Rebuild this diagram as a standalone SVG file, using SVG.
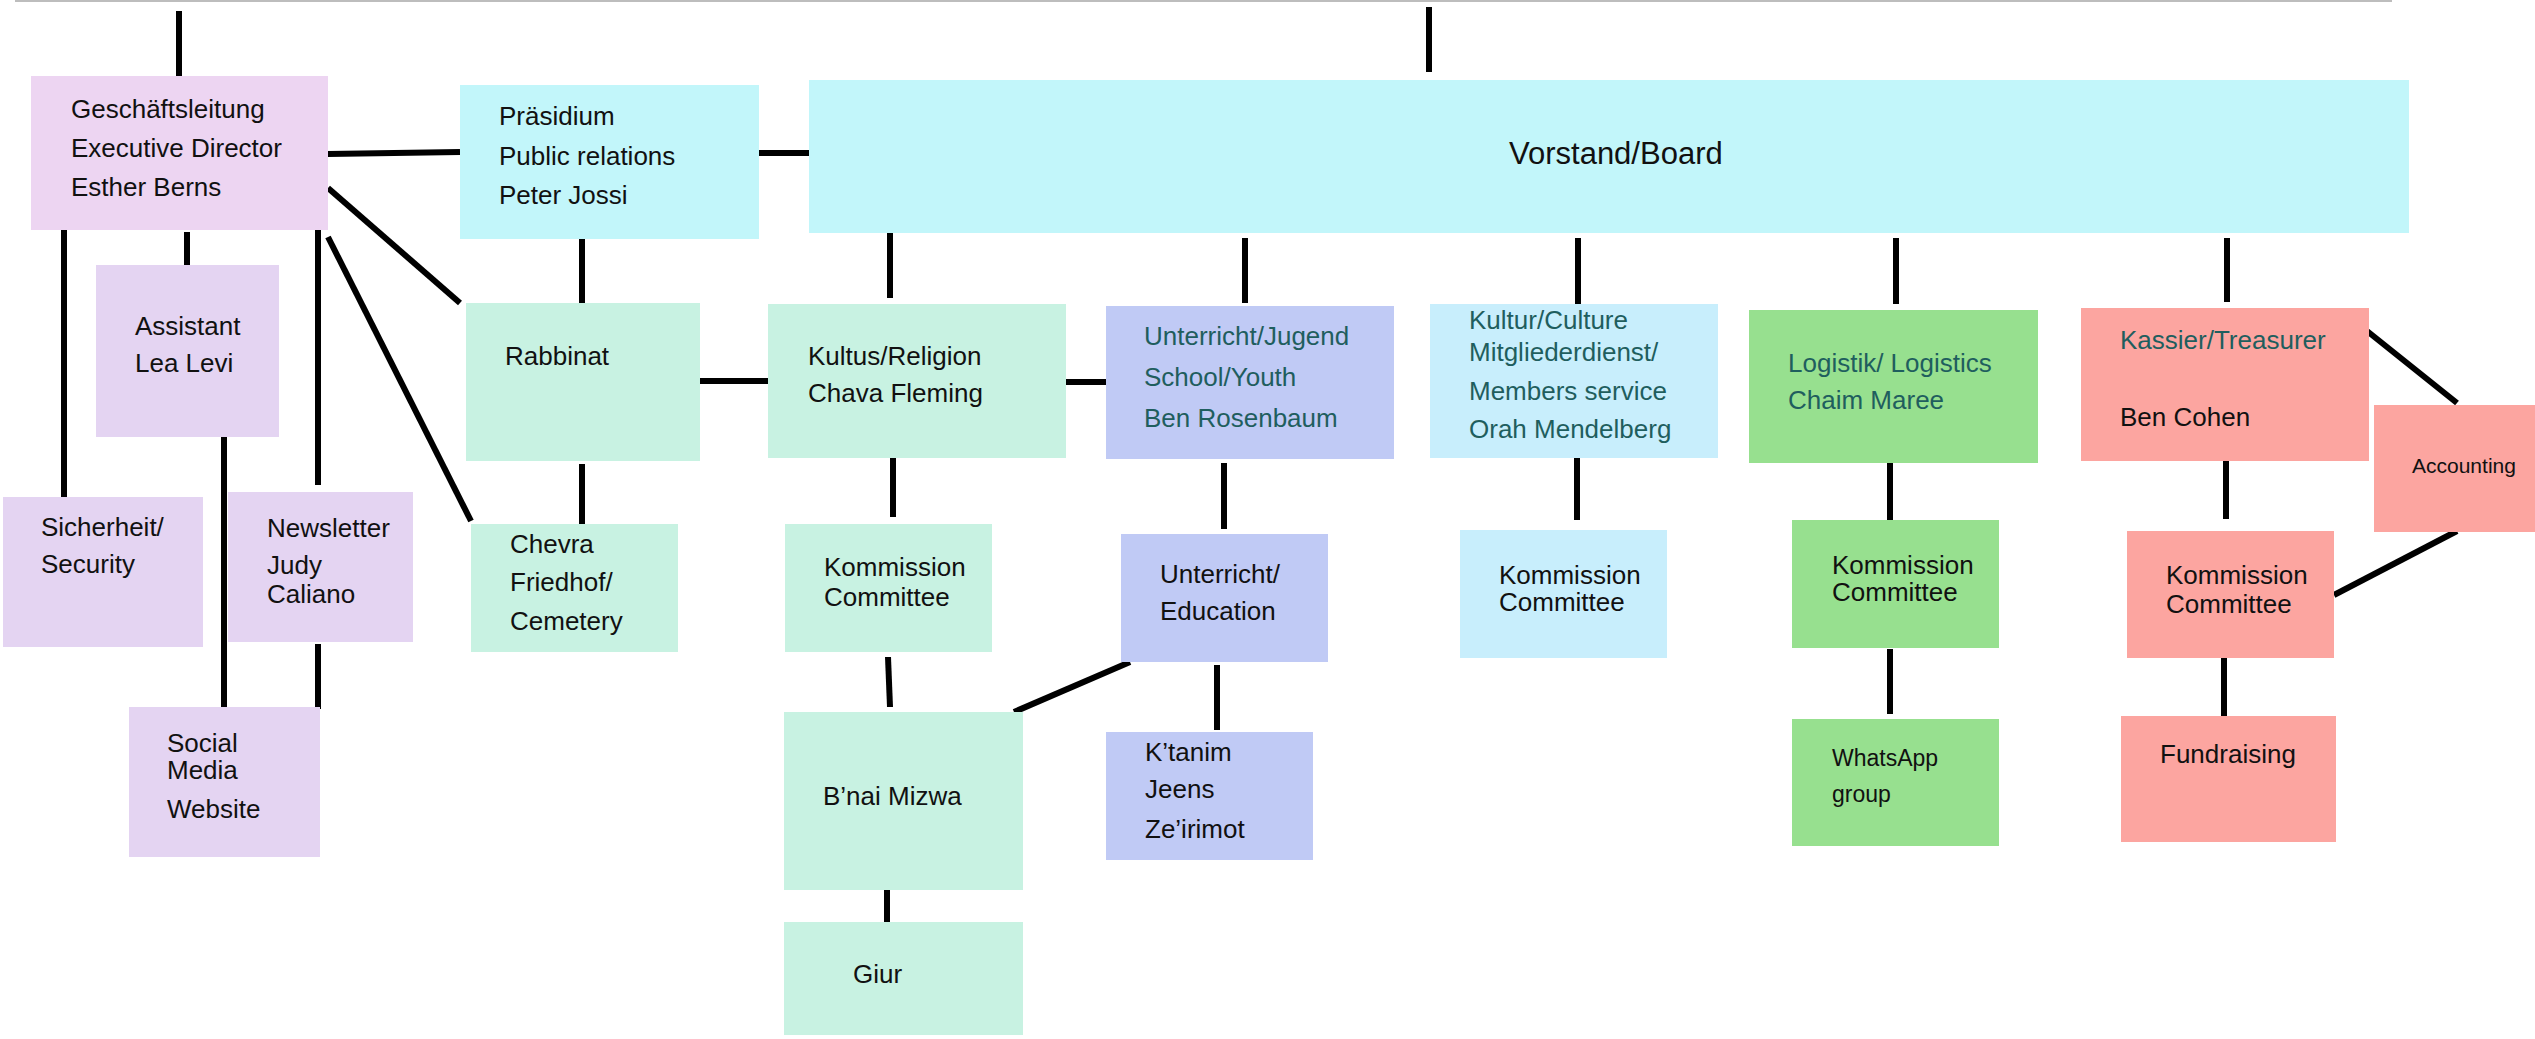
<svg xmlns="http://www.w3.org/2000/svg" width="2535" height="1039" viewBox="0 0 2535 1039">
<style>
text{font-family:"Liberation Sans",Arial,sans-serif;font-size:26px;fill:#111}
.t{fill:#1f5e5e}
.c line{stroke:#000;stroke-width:6;stroke-linecap:butt}
.pk{fill:#EDD5F2}.lv{fill:#E4D4F2}.cy{fill:#C2F6FA}.mt{fill:#C8F2E2}.pw{fill:#C0CAF5}.lb{fill:#C8EEFC}.gr{fill:#97E08F}.sm{fill:#FCA5A0}
</style>
<rect width="2535" height="1039" fill="#fff"/>
<line x1="15" y1="1" x2="2392" y2="1" stroke="#bdbdbd" stroke-width="2"/>
<g class="c" id="connectors">
<line x1="179" y1="11" x2="179" y2="76"/>
<line x1="1429" y1="7" x2="1429" y2="72"/>
<line x1="328" y1="154" x2="460" y2="152"/>
<line x1="753" y1="153" x2="813" y2="153"/>
<line x1="64" y1="226" x2="64" y2="497"/>
<line x1="187" y1="232" x2="187" y2="266"/>
<line x1="318" y1="226" x2="318" y2="485"/>
<line x1="328" y1="188" x2="460" y2="303"/>
<line x1="328" y1="237" x2="471" y2="521"/>
<line x1="582" y1="239" x2="582" y2="303"/>
<line x1="700" y1="381" x2="769" y2="381"/>
<line x1="224" y1="437" x2="224" y2="707"/>
<line x1="318" y1="644" x2="318" y2="709"/>
<line x1="582" y1="464" x2="582" y2="524"/>
<line x1="890" y1="233" x2="890" y2="298"/>
<line x1="1060" y1="382" x2="1106" y2="382"/>
<line x1="1245" y1="238" x2="1245" y2="303"/>
<line x1="1578" y1="238" x2="1578" y2="304"/>
<line x1="893" y1="452" x2="893" y2="517"/>
<line x1="1224" y1="463" x2="1224" y2="529"/>
<line x1="1577" y1="455" x2="1577" y2="520"/>
<line x1="888" y1="657" x2="890" y2="707"/>
<line x1="887" y1="890" x2="887" y2="923"/>
<line x1="1130" y1="662" x2="1014" y2="712"/>
<line x1="1217" y1="665" x2="1217" y2="730"/>
<line x1="1896" y1="238" x2="1896" y2="304"/>
<line x1="1890" y1="458" x2="1890" y2="522"/>
<line x1="1890" y1="649" x2="1890" y2="714"/>
<line x1="2227" y1="238" x2="2227" y2="302"/>
<line x1="2367" y1="331" x2="2457" y2="403"/>
<line x1="2226" y1="454" x2="2226" y2="519"/>
<line x1="2457" y1="531" x2="2334" y2="595"/>
<line x1="2224" y1="658" x2="2224" y2="716"/>
</g>
<g id="geschaeftsleitung"><rect class="pk" x="31" y="76" width="297" height="154"/><text x="71" y="118">Geschäftsleitung</text><text x="71" y="157">Executive Director</text><text x="71" y="196">Esther Berns</text></g>
<g id="praesidium"><rect class="cy" x="460" y="85" width="299" height="154"/><text x="499" y="125">Präsidium</text><text x="499" y="165">Public relations</text><text x="499" y="204">Peter Jossi</text></g>
<g id="vorstand"><rect class="cy" x="809" y="80" width="1600" height="153"/><text x="1509" y="164" style="font-size:31px">Vorstand/Board</text></g>
<g id="assistant"><rect class="lv" x="96" y="265" width="183" height="172"/><text x="135" y="335">Assistant</text><text x="135" y="372">Lea Levi</text></g>
<g id="sicherheit"><rect class="lv" x="3" y="497" width="200" height="150"/><text x="41" y="536">Sicherheit/</text><text x="41" y="573">Security</text></g>
<g id="newsletter"><rect class="lv" x="228" y="492" width="185" height="150"/><text x="267" y="537">Newsletter</text><text x="267" y="574">Judy</text><text x="267" y="603">Caliano</text></g>
<g id="socialmedia"><rect class="lv" x="129" y="707" width="191" height="150"/><text x="167" y="752">Social</text><text x="167" y="779">Media</text><text x="167" y="818">Website</text></g>
<g id="rabbinat"><rect class="mt" x="466" y="303" width="234" height="158"/><text x="505" y="365">Rabbinat</text></g>
<g id="chevra"><rect class="mt" x="471" y="524" width="207" height="128"/><text x="510" y="553">Chevra</text><text x="510" y="591">Friedhof/</text><text x="510" y="630">Cemetery</text></g>
<g id="kultus"><rect class="mt" x="768" y="304" width="298" height="154"/><text x="808" y="365">Kultus/Religion</text><text x="808" y="402">Chava Fleming</text></g>
<g id="kommission-kultus"><rect class="mt" x="785" y="524" width="207" height="128"/><text x="824" y="576">Kommission</text><text x="824" y="606">Committee</text></g>
<g id="bnai-mizwa"><rect class="mt" x="784" y="712" width="239" height="178"/><text x="823" y="805">B’nai Mizwa</text></g>
<g id="giur"><rect class="mt" x="784" y="922" width="239" height="113"/><text x="853" y="983">Giur</text></g>
<g id="unterricht-jugend"><rect class="pw" x="1106" y="306" width="288" height="153"/><text class="t" x="1144" y="345">Unterricht/Jugend</text><text class="t" x="1144" y="386">School/Youth</text><text class="t" x="1144" y="427">Ben Rosenbaum</text></g>
<g id="unterricht-education"><rect class="pw" x="1121" y="534" width="207" height="128"/><text x="1160" y="583">Unterricht/</text><text x="1160" y="620">Education</text></g>
<g id="ktanim"><rect class="pw" x="1106" y="732" width="207" height="128"/><text x="1145" y="761">K’tanim</text><text x="1145" y="798">Jeens</text><text x="1145" y="838">Ze’irimot</text></g>
<g id="kultur"><rect class="lb" x="1430" y="304" width="288" height="154"/><text class="t" x="1469" y="329">Kultur/Culture</text><text class="t" x="1469" y="361">Mitgliederdienst/</text><text class="t" x="1469" y="400">Members service</text><text class="t" x="1469" y="438">Orah Mendelberg</text></g>
<g id="kommission-kultur"><rect class="lb" x="1460" y="530" width="207" height="128"/><text x="1499" y="584">Kommission</text><text x="1499" y="611">Committee</text></g>
<g id="logistik"><rect class="gr" x="1749" y="310" width="289" height="153"/><text class="t" x="1788" y="372">Logistik/ Logistics</text><text class="t" x="1788" y="409">Chaim Maree</text></g>
<g id="kommission-logistik"><rect class="gr" x="1792" y="520" width="207" height="128"/><text x="1832" y="574">Kommission</text><text x="1832" y="601">Committee</text></g>
<g id="whatsapp"><rect class="gr" x="1792" y="719" width="207" height="127"/><text x="1832" y="766" style="font-size:23px">WhatsApp</text><text x="1832" y="802" style="font-size:23px">group</text></g>
<g id="kassier"><rect class="sm" x="2081" y="308" width="288" height="153"/><text class="t" x="2120" y="349">Kassier/Treasurer</text><text x="2120" y="426">Ben Cohen</text></g>
<g id="accounting"><rect class="sm" x="2374" y="405" width="161" height="127"/><text x="2412" y="473" style="font-size:21px">Accounting</text></g>
<g id="kommission-finanzen"><rect class="sm" x="2127" y="531" width="207" height="127"/><text x="2166" y="584">Kommission</text><text x="2166" y="613">Committee</text></g>
<g id="fundraising"><rect class="sm" x="2121" y="716" width="215" height="126"/><text x="2160" y="763">Fundraising</text></g>
</svg>
